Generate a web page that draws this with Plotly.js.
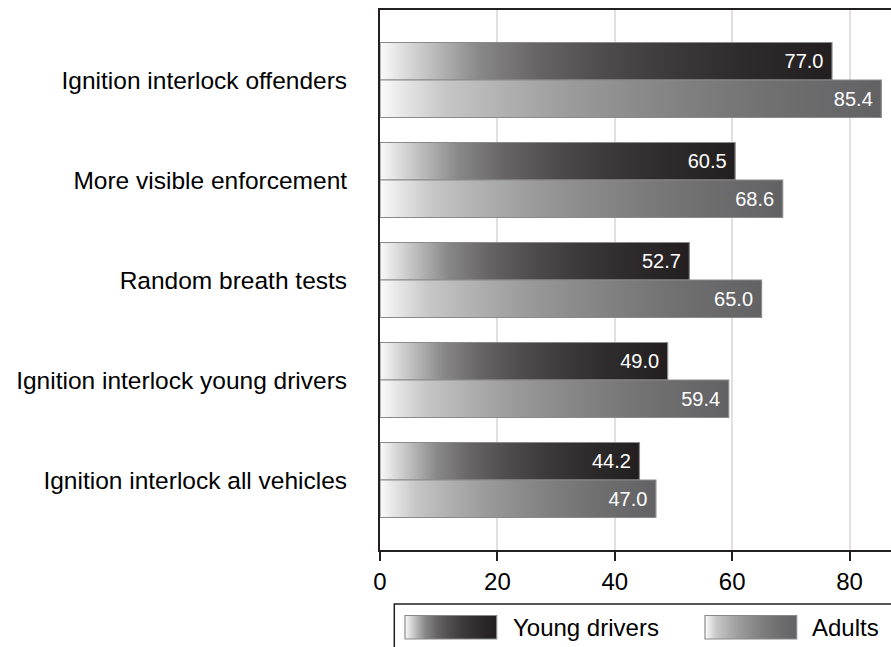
<!DOCTYPE html>
<html>
<head>
<meta charset="utf-8">
<script src="https://cdn.plot.ly/plotly-3.0.1.min.js"></script>
<style>
  html, body { margin: 0; padding: 0; background: #ffffff; }
  #chart { width: 891px; height: 647px; }
</style>
</head>
<body>
<div id="chart"></div>
<script>
// Support for stricter drink-driving measures, % in favour
const categories = [
  "Ignition interlock offenders",
  "More visible enforcement",
  "Random breath tests",
  "Ignition interlock young drivers",
  "Ignition interlock all vehicles"
];
const youngDrivers = [77.0, 60.5, 52.7, 49.0, 44.2];
const adults = [85.4, 68.6, 65.0, 59.4, 47.0];
const seriesNames = ["Young drivers", "Adults"];
const xTickValues = [0, 20, 40, 60, 80];

// Page geometry (pixels)
const W = 891, H = 647;
const M = { l: 380, r: 0, t: 10, b: 97 };
const plotW = W - M.l - M.r, plotH = H - M.t - M.b;
const px = x => (x - M.l) / plotW;          // pixel x -> paper x
const py = y => (M.t + plotH - y) / plotH;  // pixel y -> paper y

const FONT = "Liberation Sans, Arial, Helvetica, sans-serif";
const INK = "#231f20";
const YOUNG_END = "#231f20";
const ADULT_END = "#626264";
const EDGE = "#8a8a8a";

const barCommon = {
  type: "bar",
  orientation: "h",
  y: categories,
  textposition: "inside",
  insidetextanchor: "end",
  texttemplate: "%{x:.1f}\u00a0",
  textfont: { family: FONT, size: 20, color: "#ffffff" },
  constraintext: "none",
  hoverinfo: "x+y+name"
};

const traces = [
  Object.assign({}, barCommon, {
    name: seriesNames[0],
    x: youngDrivers,
    marker: { color: YOUNG_END, line: { color: EDGE, width: 1.2 } }
  }),
  Object.assign({}, barCommon, {
    name: seriesNames[1],
    x: adults,
    marker: { color: ADULT_END, line: { color: EDGE, width: 1.2 } }
  })
];

const layout = {
  width: W,
  height: H,
  margin: M,
  paper_bgcolor: "#ffffff",
  plot_bgcolor: "#ffffff",
  font: { family: FONT, size: 24, color: "#000000" },
  showlegend: false,
  barmode: "group",
  bargap: 0.25,
  bargroupgap: 0,
  xaxis: {
    range: [0, 87.05],
    tickvals: xTickValues,
    ticktext: xTickValues.map(String),
    showgrid: true,
    gridcolor: "#e0e0e0",
    gridwidth: 2,
    zeroline: false,
    showline: true,
    linecolor: INK,
    linewidth: 2,
    mirror: true,
    ticks: "outside",
    ticklen: 9,
    tickwidth: 2,
    tickcolor: INK,
    tickfont: { family: FONT, size: 24, color: "#000000" },
    fixedrange: true
  },
  yaxis: {
    type: "category",
    categoryorder: "array",
    categoryarray: categories,
    range: [4.7, -0.7],
    showgrid: false,
    zeroline: false,
    showline: true,
    linecolor: INK,
    linewidth: 2,
    ticks: "",
    ticklabelstandoff: 26,
    tickfont: { family: FONT, size: 24.5, color: "#000000" },
    fixedrange: true
  },
  shapes: [
    // legend frame
    { type: "rect", xref: "paper", yref: "paper", layer: "above",
      x0: px(394.3), x1: px(905), y0: py(604), y1: py(670),
      line: { color: INK, width: 1.5 }, fillcolor: "rgba(0,0,0,0)" },
    // legend swatches
    { type: "rect", xref: "paper", yref: "paper", layer: "above",
      x0: px(405), x1: px(496.7), y0: py(615.5), y1: py(639),
      line: { color: EDGE, width: 1.2 }, fillcolor: YOUNG_END },
    { type: "rect", xref: "paper", yref: "paper", layer: "above",
      x0: px(705), x1: px(796.7), y0: py(615.5), y1: py(639),
      line: { color: EDGE, width: 1.2 }, fillcolor: ADULT_END }
  ],
  annotations: [
    { xref: "paper", yref: "paper", x: px(511), y: py(627.5),
      xanchor: "left", yanchor: "middle", showarrow: false,
      text: seriesNames[0], font: { family: FONT, size: 24, color: "#000000" } },
    { xref: "paper", yref: "paper", x: px(809.5), y: py(627.5),
      xanchor: "left", yanchor: "middle", showarrow: false,
      text: seriesNames[1], font: { family: FONT, size: 24, color: "#000000" } }
  ]
};

// Horizontal white-to-dark shading used on every bar and legend swatch
const gradients = {
  gYoung: [[0, "#fbfbfb"], [0.05, "#dedede"], [0.15, "#ababab"], [0.22, "#898888"],
           [0.35, "#666464"], [0.5, "#4d4b4b"], [0.64, "#3d3a3b"], [0.79, "#2f2c2d"], [1, YOUNG_END]],
  gAdult: [[0, "#fbfbfb"], [0.05, "#e5e5e5"], [0.13, "#c6c6c6"], [0.25, "#b0b0b0"],
           [0.38, "#9b9b9b"], [0.51, "#8b8b8c"], [0.65, "#7c7c7d"], [0.78, "#707071"], [1, ADULT_END]]
};

function rgbKey(c) {
  const h = c.replace("#", "");
  return "rgb(" + parseInt(h.slice(0, 2), 16) + "," + parseInt(h.slice(2, 4), 16) + "," + parseInt(h.slice(4, 6), 16) + ")";
}

function applyShading(gd) {
  const svgNS = "http://www.w3.org/2000/svg";
  const svg = gd.querySelector("svg.main-svg");
  let defs = svg.querySelector("defs");
  if (!defs) { defs = document.createElementNS(svgNS, "defs"); svg.insertBefore(defs, svg.firstChild); }
  Object.keys(gradients).forEach(id => {
    if (document.getElementById(id)) return;
    const lg = document.createElementNS(svgNS, "linearGradient");
    lg.setAttribute("id", id);
    lg.setAttribute("x1", "0"); lg.setAttribute("y1", "0");
    lg.setAttribute("x2", "1"); lg.setAttribute("y2", "0");
    gradients[id].forEach(([o, c]) => {
      const s = document.createElementNS(svgNS, "stop");
      s.setAttribute("offset", o);
      s.setAttribute("stop-color", c);
      lg.appendChild(s);
    });
    defs.appendChild(lg);
  });
  const map = {};
  map[rgbKey(YOUNG_END)] = "url(#gYoung)";
  map[rgbKey(ADULT_END)] = "url(#gAdult)";
  gd.querySelectorAll("path").forEach(p => {
    const f = (p.style.fill || "").replace(/\s+/g, "");
    if (map[f]) p.style.fill = map[f];
  });
}

const gd = document.getElementById("chart");
Plotly.newPlot(gd, traces, layout, { displayModeBar: false, staticPlot: true })
  .then(() => applyShading(gd));
</script>
</body>
</html>
